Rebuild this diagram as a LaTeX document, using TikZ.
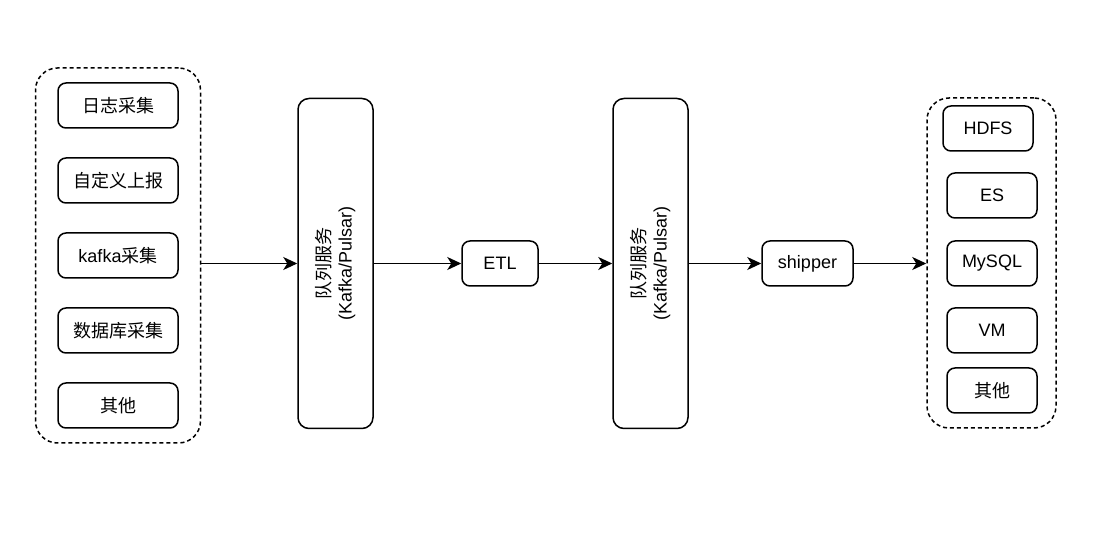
\documentclass[tikz,border=0pt]{standalone}
\usepackage{fontspec}
\setmainfont{Liberation Sans}
\newfontfamily\cjk{Noto Sans CJK SC}
\usetikzlibrary{arrows.meta}

\begin{document}
\begin{tikzpicture}[x=1pt, y=-1pt,
    font=\fontsize{18}{21}\selectfont,
    box/.style={draw, line width=1.5pt, rounded corners=8pt, minimum height=45pt, inner sep=0pt},
    group/.style={draw, line width=1.5pt, dashed, dash pattern=on 4pt off 3pt, rounded corners=22pt, inner sep=0pt},
    queue/.style={draw, line width=1.5pt, rounded corners=11pt, minimum width=75pt, minimum height=330pt, inner sep=0pt},
    arr/.style={-{Stealth[length=14pt, width=13pt, inset=4pt]}, line width=1.5pt}]
    \useasboundingbox (0,0) rectangle (1096,534);

    % Source group
    \node[group, minimum width=165pt, minimum height=375pt] (src) at (118,255.5) {};
    \node[box, minimum width=120pt] (log) at (118,105.5) {\cjk 日志采集};
    \node[box, minimum width=120pt] (report) at (118,180.5) {\cjk 自定义上报};
    \node[box, minimum width=120pt] (kafka) at (118,255.5) {kafka{\cjk 采集}};
    \node[box, minimum width=120pt] (db) at (118,330.5) {\cjk 数据库采集};
    \node[box, minimum width=120pt] (other) at (118,405.5) {\cjk 其他};

    % Queues and processing
    \node[queue] (q1) at (335.5,263.5) {};
    \node[rotate=90, align=center] at (q1) {{\cjk 队列服务}\\(Kafka/Pulsar)};
    \node[box, minimum width=76pt] (etl) at (500,263.5) {ETL};
    \node[queue] (q2) at (650.5,263.5) {};
    \node[rotate=90, align=center] at (q2) {{\cjk 队列服务}\\(Kafka/Pulsar)};
    \node[box, minimum width=91pt] (shipper) at (807.5,263.5) {shipper};

    % Sink group
    \node[group, minimum width=129pt, minimum height=330pt] (dst) at (991.5,263) {};
    \node[box, minimum width=90pt] (hdfs) at (988,128.5) {HDFS};
    \node[box, minimum width=90pt] (es) at (992,195.5) {ES};
    \node[box, minimum width=90pt] (mysql) at (992,263.5) {MySQL};
    \node[box, minimum width=90pt] (vm) at (992,330.5) {VM};
    \node[box, minimum width=90pt] (other2) at (992,390.5) {\cjk 其他};

    % Connectors
    \draw[arr] (src.east |- q1.west) -- (q1.west);
    \draw[arr] (q1.east |- etl.west) -- (etl.west);
    \draw[arr] (etl.east) -- (q2.west |- etl.east);
    \draw[arr] (q2.east |- shipper.west) -- (shipper.west);
    \draw[arr] (shipper.east) -- (dst.west |- shipper.east);
\end{tikzpicture}
\end{document}
